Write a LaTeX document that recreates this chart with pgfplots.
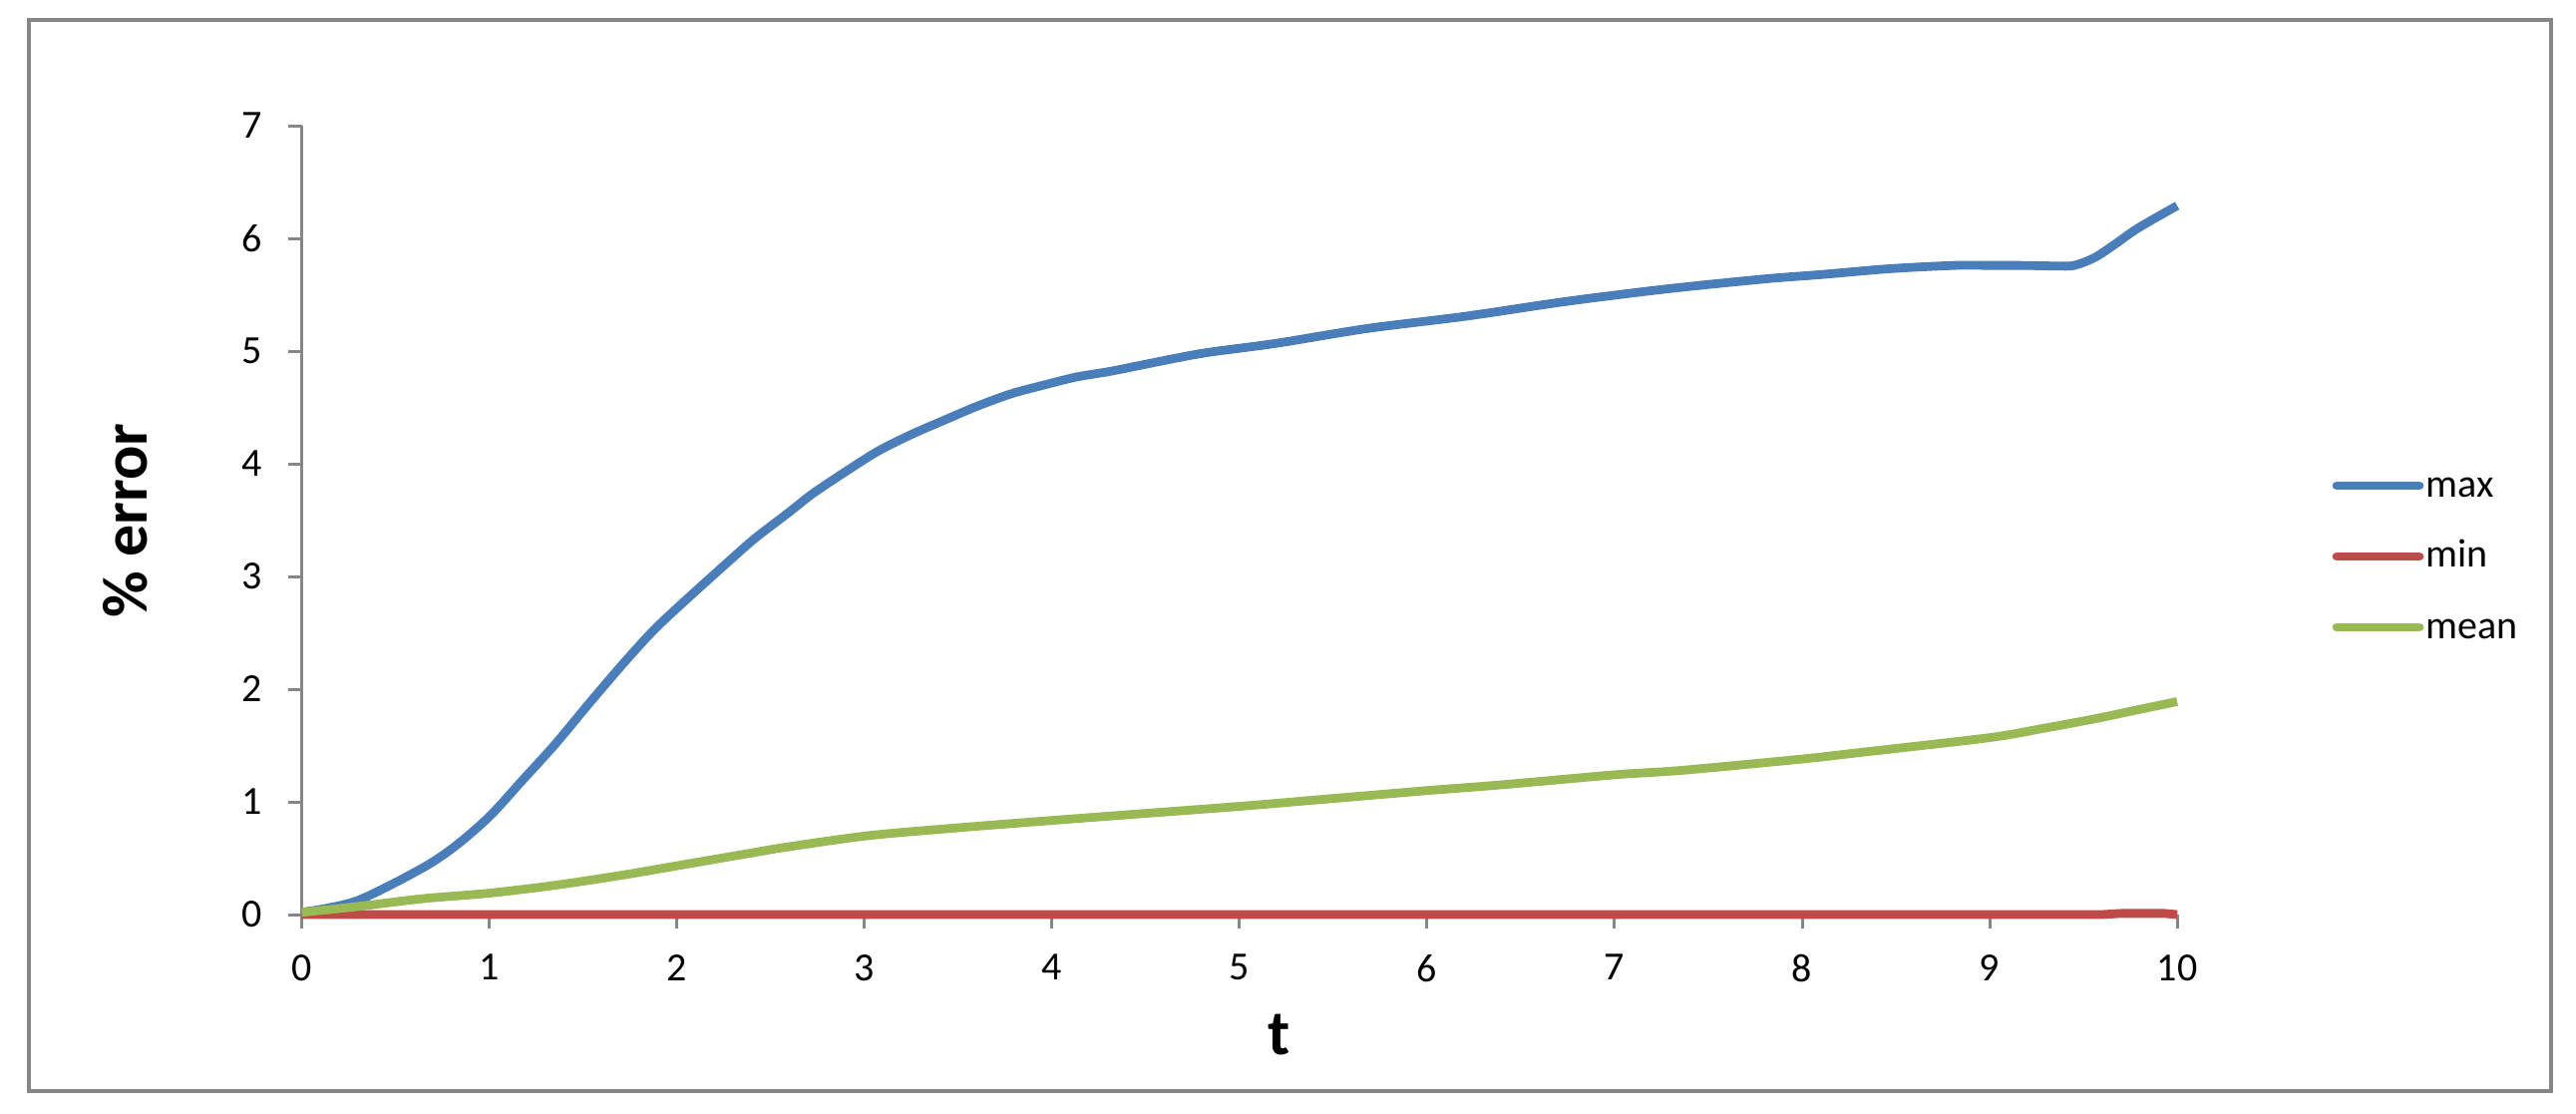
\documentclass[border=0pt]{standalone}
\usepackage{fontspec}
\setmainfont{Carlito}
\usepackage{pgfplots}
\pgfplotsset{compat=1.18}

\definecolor{cmax}{HTML}{4A7EBB}
\definecolor{cmin}{HTML}{BE4B48}
\definecolor{cmean}{HTML}{98B954}
\definecolor{axgray}{HTML}{868686}

\begin{document}
\begin{tikzpicture}[x=0.25pt, y=0.25pt]
\useasboundingbox (0,0) rectangle (2583,1116);
% chart frame
\draw[axgray, line width=0.85pt] (29,22) rectangle (2558,1096);

\begin{axis}[
    at={(75.675pt,49.75pt)}, anchor=south west,
    scale only axis, width=470.1pt, height=197.75pt,
    xmin=0, xmax=10, ymin=0, ymax=7,
    xtick={0,...,10}, ytick={0,...,7},
    axis x line*=bottom, axis y line*=left,
    axis line style={axgray, line width=0.75pt},
    tick style={axgray, line width=0.75pt},
    tick align=outside, major tick length=3.5pt,
    /pgf/number format/assume math mode=true,
    ticklabel style={font=\fontsize{10}{12}\selectfont},
    xticklabel style={yshift=-3pt},
    yticklabel style={xshift=-3pt},
    clip=false,
]
\addplot[cmax, line width=2.2pt, line join=round, smooth, tension=0.5] coordinates {
    (0,0.02) (0.29,0.12) (0.64,0.41) (0.82,0.61) (1.0,0.87) (1.17,1.18)
    (1.35,1.51) (1.53,1.87) (1.71,2.22) (1.88,2.53) (2.06,2.81) (2.24,3.08)
    (2.41,3.33) (2.59,3.56) (2.72,3.73) (2.89,3.92) (3.07,4.11) (3.25,4.26)
    (3.43,4.39) (3.60,4.51) (3.78,4.62) (3.96,4.70) (4.13,4.77) (4.31,4.82)
    (4.49,4.88) (4.67,4.94) (4.84,4.99) (5.2,5.07) (5.68,5.20) (6.21,5.31)
    (6.74,5.44) (7.27,5.55) (7.80,5.64) (8.11,5.68) (8.46,5.73) (8.81,5.76)
    (8.99,5.76) (9.17,5.76) (9.35,5.755) (9.45,5.76) (9.56,5.83) (9.67,5.95)
    (9.79,6.09) (10,6.29)
};
\addplot[cmin, line width=2.2pt] coordinates {
    (0,0) (9.6,0) (9.7,0.01) (9.93,0.01) (10,0)
};
\addplot[cmean, line width=2.2pt, line join=round, smooth, tension=0.5] coordinates {
    (0,0.02) (0.29,0.07) (0.64,0.14) (1.0,0.19) (1.35,0.26) (1.71,0.35)
    (2.06,0.45) (2.41,0.55) (2.59,0.60) (3.02,0.70) (3.50,0.77) (4.0,0.835)
    (4.47,0.894) (5.0,0.96) (5.43,1.02) (6.0,1.10) (6.39,1.15) (7.0,1.24)
    (7.36,1.28) (8.0,1.38) (8.32,1.44) (9.0,1.57) (9.28,1.65) (9.57,1.74)
    (9.77,1.81) (10,1.89)
};
\end{axis}

% axis titles
\node[rotate=90, font=\fontsize{16}{19}\selectfont\bfseries] at (125.5,594) {\% error};
\node[font=\fontsize{16}{19}\selectfont\bfseries] at (1283,78) {t};

% legend
\draw[cmax, line width=2.2pt, line cap=round] (2343,629) -- (2426,629);
\draw[cmin, line width=2.2pt, line cap=round] (2343,558) -- (2426,558);
\draw[cmean, line width=2.2pt, line cap=round] (2343,487) -- (2426,487);
\node[anchor=base west, inner sep=0pt, font=\fontsize{10}{12}\selectfont] at (2432,617) {max};
\node[anchor=base west, inner sep=0pt, font=\fontsize{10}{12}\selectfont] at (2432,547) {min};
\node[anchor=base west, inner sep=0pt, font=\fontsize{10}{12}\selectfont] at (2432,476) {mean};
\end{tikzpicture}
\end{document}
